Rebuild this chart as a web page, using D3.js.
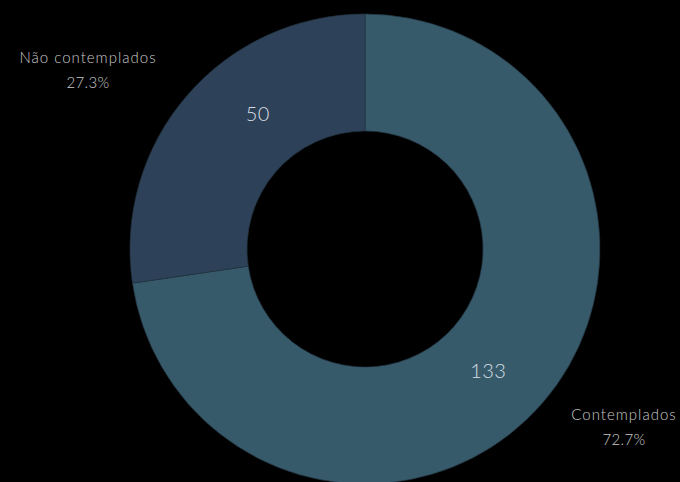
<!DOCTYPE html>
<html>
<head>
<meta charset="utf-8">
<script src="https://cdn.jsdelivr.net/npm/d3@7"></script>
<style>
  html, body { margin: 0; padding: 0; background: #000; }
  svg { display: block; }
  text { font-family: "Lato", "Open Sans", sans-serif; font-weight: 300; }
</style>
</head>
<body>
<svg id="chart" width="680" height="482"></svg>
<script>
// Participants by outcome
const categories = ["Contemplados", "Não contemplados"];
const counts = [133, 50];
const percentLabels = ["72.7%", "27.3%"];
const sliceColors = ["#365a6a", "#2d4158"];

const width = 680, height = 482;
const cx = 365, cy = 249;
const outerR = 235, innerR = 118;

const svg = d3.select("#chart");
const g = svg.append("g").attr("transform", `translate(${cx},${cy})`);

const data = categories.map((c, i) => ({ name: c, value: counts[i], pct: percentLabels[i], color: sliceColors[i] }));

const pie = d3.pie().value(d => d.value).sort(null);
const arc = d3.arc().innerRadius(innerR).outerRadius(outerR);
const arcs = pie(data);

g.selectAll("path.slice")
  .data(arcs)
  .enter().append("path")
  .attr("class", "slice")
  .attr("d", arc)
  .attr("fill", d => d.data.color)
  .attr("stroke", "#22323f")
  .attr("stroke-width", 0.7);

// value labels inside the ring, slightly advanced along the slice
const valueShift = [0.065, 0.19];
const valueR = 173;
arcs.forEach((a, i) => {
  const ang = (a.startAngle + a.endAngle) / 2 + valueShift[i];
  g.append("text")
    .attr("x", valueR * Math.sin(ang))
    .attr("y", -valueR * Math.cos(ang))
    .attr("text-anchor", "middle")
    .attr("dominant-baseline", "central")
    .attr("fill", "#d6dde2")
    .attr("font-size", 20)
    .attr("letter-spacing", 0.5)
    .text(a.data.value);
});

// outer category labels
const outerPos = [
  { x: 624 - cx, y: 420 - cy },
  { x: 88 - cx, y: 63 - cy }
];
arcs.forEach((a, i) => {
  const p = outerPos[i];
  const t = g.append("text")
    .attr("text-anchor", "middle")
    .attr("fill", "#c9c9c9")
    .attr("font-size", 15);
  t.append("tspan").attr("x", p.x).attr("y", p.y)
    .attr("letter-spacing", 1).text(a.data.name);
  t.append("tspan").attr("x", p.x).attr("y", p.y + 25)
    .attr("letter-spacing", 0.3).text(a.data.pct);
});
</script>
</body>
</html>
